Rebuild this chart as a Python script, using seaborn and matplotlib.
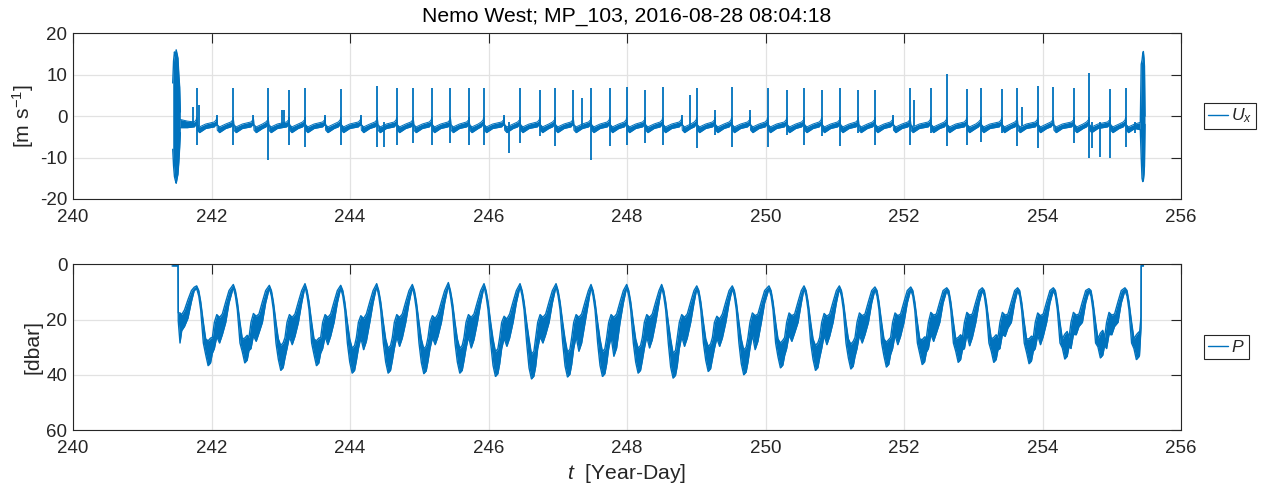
import numpy as np
import pandas as pd
import matplotlib
matplotlib.use("Agg")
import matplotlib.pyplot as plt
import seaborn as sns
from matplotlib.lines import Line2D

# ---------------- data ----------------
title_text = "Nemo West; MP_103, 2016-08-28 08:04:18"
x_ticks = [240, 242, 244, 246, 248, 250, 252, 254, 256]
ux_ticks = [-20, -10, 0, 10, 20]
p_ticks = [0, 20, 40, 60]

# pressure: per profile cycle (shallowest point, deepest point, secondary bump, following dip)
p_peak_t = [241.786, 242.315, 242.835, 243.350, 243.866, 244.385, 244.900, 245.420, 245.935,
            246.455, 246.975, 247.480, 247.995, 248.500, 249.007, 249.520, 250.050, 250.556,
            251.066, 251.580, 252.097, 252.617, 253.130, 253.640, 254.156, 254.670, 255.190]
p_peak = [8.2, 7.7, 8.0, 7.4, 8.0, 7.4, 7.7, 7.0, 7.4, 7.4, 7.4, 7.7, 7.7, 7.7, 8.2, 8.2,
          8.2, 8.2, 8.2, 8.6, 8.6, 8.9, 8.9, 8.9, 8.9, 9.2, 8.9]
p_trough = [36.7, 35.7, 38.4, 36.7, 39.4, 39.4, 39.6, 39.4, 40.6, 41.5, 40.8, 40.6, 39.4, 41.2,
            38.8, 40.0, 37.5, 38.4, 37.9, 37.2, 36.3, 35.5, 35.5, 36.0, 34.3, 33.9, 34.5]
p_bump = [18.2, 17.8, 18.2, 18.2, 18.6, 18.2, 18.6, 18.2, 18.8, 18.2, 18.2, 18.2, 18.2, 18.2,
          18.8, 17.6, 17.6, 17.8, 17.6, 17.6, 17.4, 17.4, 17.4, 17.6, 17.4, 17.4]
p_dip = [28.5, 27.9, 29.1, 29.1, 30.9, 29.7, 29.1, 30.3, 29.7, 28.5, 31.5, 33.3, 30.3, 29.7,
         29.7, 30.9, 27.9, 29.1, 28.5, 29.1, 27.9, 29.5, 26.1, 29.1, 25.5, 25.5]
# typical cycle shape: time after shallow point
p_shape_dt = [0.000, 0.030, 0.058, 0.096, 0.130, 0.165, 0.200, 0.226, 0.255, 0.290, 0.330, 0.370, 0.420, 0.467]
# start / end of record
p_start_t = [241.430, 241.517, 241.520, 241.545, 241.570, 241.610, 241.660, 241.710, 241.750]
p_start_hi = [0.0, 0.0, 17.6, 17.6, 18.2, 16.5, 12.8, 9.5, 8.3]
p_start_lo = [0.6, 0.6, 20.6, 28.5, 24.0, 22.5, 19.5, 13.5, 9.5]
p_end_t = [255.400, 255.422, 255.425, 255.458]
p_end_hi = [25.0, 19.0, 0.0, 0.0]
p_end_lo = [33.0, 23.0, 0.6, 0.6]

# Ux: events at profile turning points (spike top, spike bottom)
ux_ev_t = [241.786, 242.075, 242.315, 242.605, 242.820, 243.120, 243.350, 243.640, 243.866, 244.156,
           244.395, 244.674, 244.914, 245.180, 245.450, 245.720, 245.930, 246.225, 246.455, 246.740,
           246.960, 247.225, 247.480, 247.750, 247.995, 248.260, 248.515, 248.790, 249.006, 249.270,
           249.510, 249.776, 250.030, 250.306, 250.556, 250.810, 251.076, 251.340, 251.580, 251.840,
           252.090, 252.385, 252.617, 252.905, 253.110, 253.410, 253.636, 253.930, 254.156, 254.455,
           254.670, 254.975, 255.200]
ux_ev_hi = [6.7, 0.3, 6.9, 0.3, 6.7, 6.3, 6.7, 0.3, 6.5, 0.3,
            7.3, 6.9, 6.7, 6.7, 6.7, 6.7, 6.7, 0.3, 6.7, 6.3,
            6.7, 6.3, 6.7, 6.7, 7.0, 6.3, 7.0, 0.3, 6.7, 1.5,
            7.0, 1.5, 6.7, 6.3, 6.7, 6.3, 6.7, 6.3, 6.3, 0.3,
            6.7, 6.7, 10.2, 6.6, 6.7, 6.5, 6.7, 7.3, 7.1, 6.9,
            10.3, 6.6, 6.7]
ux_ev_lo = [-7.0, -2.5, -7.0, -2.5, -10.6, -7.0, -7.4, -2.5, -7.0, -2.5,
            -7.4, -7.0, -6.6, -7.0, -6.6, -7.0, -7.0, -2.5, -6.6, -4.9,
            -7.2, -2.5, -10.6, -7.2, -7.0, -6.6, -7.0, -2.5, -7.8, -4.6,
            -7.4, -2.5, -7.4, -4.6, -7.0, -4.9, -7.2, -4.1, -7.0, -2.5,
            -7.0, -4.0, -7.2, -7.0, -6.2, -4.1, -7.2, -7.8, -2.5, -6.6,
            -10.2, -10.2, -7.4]
# additional isolated spikes
ux_x_t = [241.74, 241.82, 243.02, 243.05, 244.49, 246.29, 247.346, 248.91, 252.15, 253.70, 254.71, 254.83, 255.335]
ux_x_hi = [2.1, 2.7, 1.5, 1.5, -1.5, -1.5, 4.3, 5.1, 4.0, 2.3, -1.5, -1.5, -1.5]
ux_x_lo = [-2.5, -2.5, -2.5, -2.5, -7.4, -9.0, -2.5, -2.5, -2.5, -2.5, -7.8, -9.8, -4.1]
# baseline band shape around each event
ux_shape_dt = [-0.035, -0.008, 0.0, 0.008, 0.040, 0.130]
ux_shape_hi = [-1.4, -0.9, -0.2, -2.0, -2.6, -1.9]
ux_shape_lo = [-2.6, -2.0, -1.2, -3.4, -4.0, -3.0]
ux_start_t = [241.550, 241.650]
ux_start_hi = [-0.8, -1.2]
ux_start_lo = [-2.8, -2.8]
ux_end_t = [255.412]
ux_end_hi = [-1.5]
ux_end_lo = [-3.3]
# bursts at deployment start / end
ux_b1_t = [241.440, 241.452, 241.465, 241.478, 241.490, 241.503, 241.515, 241.528, 241.540, 241.550]
ux_b1_hi = [8.0, 13.3, 15.5, 14.5, 16.0, 15.0, 14.0, 10.0, 7.0, 1.0]
ux_b1_lo = [-8.0, -12.0, -14.6, -15.5, -16.2, -15.0, -14.0, -11.0, -7.5, -4.0]
ux_b2_t = [255.412, 255.425, 255.437, 255.447, 255.456, 255.465, 255.472, 255.480]
ux_b2_hi = [-1.5, 12.5, 13.5, 15.0, 15.6, 14.0, 12.0, 0.0]
ux_b2_lo = [-3.3, -10.0, -15.0, -15.8, -15.5, -14.0, -12.0, -2.0]

# ---------------- build tables ----------------
rows = list(zip(p_start_t, p_start_hi, p_start_lo))
for i in range(len(p_peak_t)):
    pk, tr = p_peak[i], p_trough[i]
    hi = [pk - 0.4, 9.5, 13.5, 21.0, 27.0, tr - 9.0, tr - 10.0]
    lo = [pk + 0.6, 11.5, 16.5, 28.5, tr - 4.0, tr, tr - 1.0]
    if i < len(p_bump):
        bp, dp = p_bump[i], p_dip[i]
        hi += [26.5, 21.0, bp, bp + 1.0, 18.0, 13.5, 9.5]
        lo += [tr - 4.5, 30.5, bp + 8.0, dp, dp - 3.0, 21.0, 14.0]
    for dt, h, l in zip(p_shape_dt, hi, lo):
        rows.append((p_peak_t[i] + dt, h, l))
rows += list(zip(p_end_t, p_end_hi, p_end_lo))
p_df = pd.DataFrame(rows, columns=["t", "hi", "lo"])

rows = list(zip(ux_start_t, ux_start_hi, ux_start_lo))
for te in ux_ev_t:
    for dt, h, l in zip(ux_shape_dt, ux_shape_hi, ux_shape_lo):
        rows.append((te + dt, h, l))
rows += list(zip(ux_end_t, ux_end_hi, ux_end_lo))
ux_df = pd.DataFrame(rows, columns=["t", "hi", "lo"]).sort_values("t")
spk_df = pd.DataFrame({"t": ux_ev_t + ux_x_t, "hi": ux_ev_hi + ux_x_hi, "lo": ux_ev_lo + ux_x_lo})
b1_df = pd.DataFrame({"t": ux_b1_t, "hi": ux_b1_hi, "lo": ux_b1_lo})
b2_df = pd.DataFrame({"t": ux_b2_t, "hi": ux_b2_hi, "lo": ux_b2_lo})

# ---------------- style ----------------
sns.set_theme(style="white")
plt.rcParams["font.family"] = ["Liberation Sans", "DejaVu Sans"]
plt.rcParams["axes.unicode_minus"] = False
plt.rcParams["mathtext.default"] = "regular"
plt.rcParams["mathtext.fontset"] = "custom"
plt.rcParams["mathtext.rm"] = "Liberation Sans"
plt.rcParams["mathtext.it"] = "Liberation Sans:italic"

C = "#0072BD"
DK = "#262626"
GRID = "#e2e2e2"
FS = 13.5
FS_T = 15.2
FS_L = 12.6

fig = plt.figure(figsize=(12.63, 4.90), dpi=100)
ax1 = fig.add_axes([0.0578, 0.5939, 0.8773, 0.3382])
ax2 = fig.add_axes([0.0578, 0.1224, 0.8773, 0.3382])


def band(ax, df, lw=0.9):
    ax.fill_between(df["t"], df["hi"], df["lo"], color=C, lw=0)
    sns.lineplot(data=df, x="t", y="hi", ax=ax, color=C, lw=lw, estimator=None, sort=False, legend=False)
    sns.lineplot(data=df, x="t", y="lo", ax=ax, color=C, lw=lw, estimator=None, sort=False, legend=False)


# top panel
band(ax1, ux_df, lw=0.7)
ax1.vlines(spk_df["t"], spk_df["lo"], spk_df["hi"], color=C, lw=1.3)
band(ax1, b1_df, lw=1.0)
band(ax1, b2_df, lw=1.0)

# bottom panel
band(ax2, p_df, lw=1.0)

for ax in (ax1, ax2):
    ax.set_xlim(240, 256)
    ax.set_xticks(x_ticks)
    ax.set_xticklabels([str(v) for v in x_ticks])
    ax.set_axisbelow(True)
    ax.grid(True, color=GRID, lw=0.9)
    ax.tick_params(direction="in", length=7, width=0.8, top=True, right=True,
                   colors=DK, labelsize=FS)
    ax.tick_params(axis="x", pad=7.5)
    ax.tick_params(axis="y", pad=4)
    for s in ax.spines.values():
        s.set_color(DK)
        s.set_linewidth(0.8)
    ax.set_xlabel("")

ax1.set_ylim(-20, 20)
ax1.set_yticks(ux_ticks)
ax1.set_yticklabels([str(v) for v in ux_ticks])
ax1.set_ylabel(r"[m s$^{-1}$]", fontsize=FS_T, color=DK, labelpad=3)
ax1.set_title(title_text, fontsize=FS_T, color="black", pad=8)

ax2.set_ylim(60, 0)
ax2.set_yticks(p_ticks)
ax2.set_yticklabels([str(v) for v in p_ticks])
ax2.set_ylabel("[dbar]", fontsize=FS_T, color=DK, labelpad=3)
ax2.set_xlabel(r"$\mathit{t}$  [Year-Day]", fontsize=FS_T, color=DK, labelpad=3)

leg_kw = dict(loc="center left", bbox_to_anchor=(1.0205, 0.5), frameon=True, fancybox=False,
              edgecolor=DK, framealpha=1, borderpad=0.22, handlelength=1.15, handletextpad=0.2,
              fontsize=FS_L, borderaxespad=0)
l1 = ax1.legend([Line2D([], [], color=C, lw=1.0)], [r"$\mathit{U}_{\mathit{x}}$"], **leg_kw)
l2 = ax2.legend([Line2D([], [], color=C, lw=1.0)], [r"$\mathit{P}$"], **leg_kw)
for lg in (l1, l2):
    lg.get_frame().set_linewidth(0.8)

fig.savefig("out.png", dpi=100)
